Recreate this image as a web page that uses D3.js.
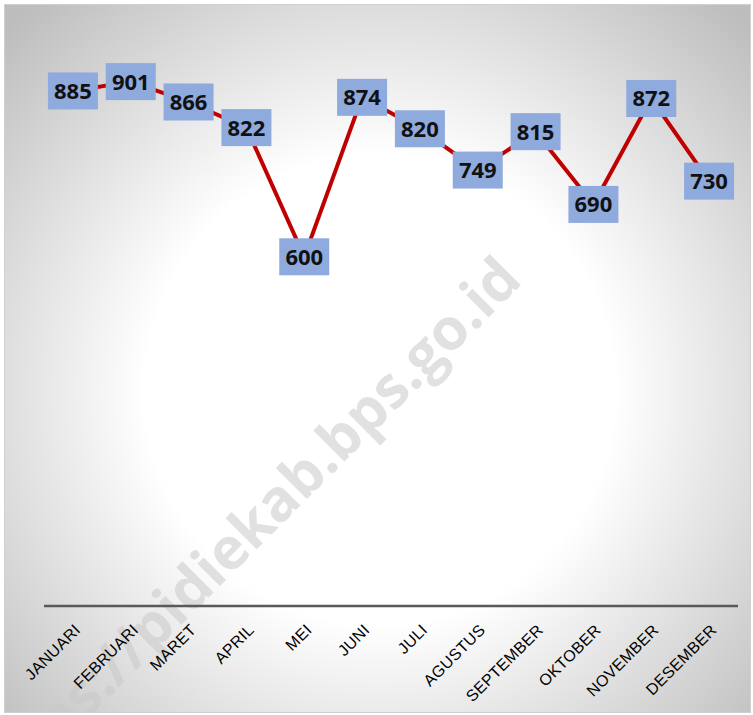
<!DOCTYPE html>
<html>
<head>
<meta charset="utf-8">
<script src="https://cdn.jsdelivr.net/npm/d3@7/dist/d3.min.js"></script>
<style>
  html, body { margin: 0; padding: 0; background: #fff; }
  svg { display: block; }
</style>
</head>
<body>
<svg id="chart" width="753" height="715"></svg>
<script>
const months = ['JANUARI', 'FEBRUARI', 'MARET', 'APRIL', 'MEI', 'JUNI', 'JULI',
  'AGUSTUS', 'SEPTEMBER', 'OKTOBER', 'NOVEMBER', 'DESEMBER'];
const values = [885, 901, 866, 822, 600, 874, 820, 749, 815, 690, 872, 730];
const watermark = 'https://pidiekab.bps.go.id';

const width = 753, height = 715;
const svg = d3.select('#chart');

// background
const defs = svg.append('defs');
const grad = defs.append('radialGradient')
  .attr('id', 'bg')
  .attr('gradientUnits', 'userSpaceOnUse')
  .attr('cx', 380).attr('cy', 390).attr('r', 520);
grad.append('stop').attr('offset', '0%').attr('stop-color', '#ffffff');
grad.append('stop').attr('offset', '45%').attr('stop-color', '#ffffff');
grad.append('stop').attr('offset', '100%').attr('stop-color', '#bdbdbd');

svg.append('rect')
  .attr('x', 4.5).attr('y', 4.5)
  .attr('width', 746).attr('height', 708)
  .attr('fill', 'url(#bg)')
  .attr('stroke', '#d0d0d0')
  .attr('stroke-width', 1);

// watermark (clipped to the chart area like the original)
defs.append('clipPath').attr('id', 'frame')
  .append('rect')
  .attr('x', 5).attr('y', 5).attr('width', 745).attr('height', 707);

svg.append('g')
  .attr('clip-path', 'url(#frame)')
  .append('text')
  .attr('transform', 'translate(524,282) rotate(-45)')
  .attr('text-anchor', 'end')
  .attr('font-family', 'Open Sans, sans-serif')
  .attr('font-weight', 700)
  .attr('font-size', 58)
  .attr('fill', '#c8c8c8')
  .attr('fill-opacity', 0.55)
  .text(watermark);

const x = d3.scalePoint()
  .domain(months)
  .range([44, 738])
  .padding(0.5);

const y = d3.scaleLinear()
  .domain([0, 1000])
  .range([606, 24]);

// axis
const xAxis = svg.append('g')
  .attr('transform', 'translate(0,606)')
  .call(d3.axisBottom(x).tickSize(0).tickPadding(0));
xAxis.select('.domain')
  .attr('d', 'M44,0H738')
  .attr('stroke', '#595959')
  .attr('stroke-width', 2.5);
xAxis.selectAll('.tick text')
  .attr('y', 0).attr('dy', 0)
  .attr('transform', 'translate(8,25) rotate(-45)')
  .attr('text-anchor', 'end')
  .attr('font-family', 'Liberation Sans, Arial, sans-serif')
  .attr('font-size', 16)
  .attr('letter-spacing', 0.3)
  .attr('fill', '#000');

// line
const line = d3.line()
  .x((d, i) => x(months[i]))
  .y(d => y(d));

svg.append('path')
  .datum(values)
  .attr('d', line)
  .attr('fill', 'none')
  .attr('stroke', '#c00000')
  .attr('stroke-width', 4)
  .attr('stroke-linejoin', 'round');

// data labels
const labels = svg.selectAll('g.lbl')
  .data(values)
  .enter()
  .append('g')
  .attr('class', 'lbl')
  .attr('transform', (d, i) => `translate(${x(months[i])},${y(d)})`);

labels.append('rect')
  .attr('x', -25).attr('y', -18.5)
  .attr('width', 50).attr('height', 37)
  .attr('fill', '#8faadc');

labels.append('text')
  .attr('text-anchor', 'middle')
  .attr('dy', '0.36em')
  .attr('font-family', 'Open Sans, sans-serif')
  .attr('font-weight', 700)
  .attr('font-size', 22)
  .attr('fill', '#111')
  .text(d => d);
</script>
</body>
</html>
